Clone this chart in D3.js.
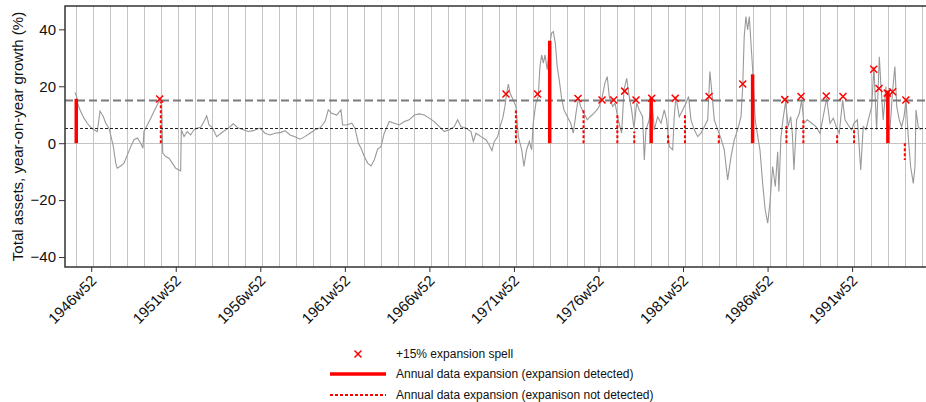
<!DOCTYPE html>
<html>
<head>
<meta charset="utf-8">
<script src="https://cdn.jsdelivr.net/npm/d3@7"></script>
<style>
  body { margin: 0; background: #fff; }
  text { font-family: "Liberation Sans", Arial, sans-serif; }
</style>
</head>
<body>
<svg id="chart" width="926" height="402"></svg>
<script>
// weekly series, dates as decimal years
var weeks = [1946.02,1946.11,1946.20,1946.36,1946.55,1946.75,1946.95,1947.15,1947.34,1947.50,1947.70,1947.84,1948.03,1948.13,1948.29,1948.43,1948.52,1948.72,1948.92,1949.12,1949.32,1949.51,1949.71,1949.91,1950.04,1950.10,1950.30,1950.50,1950.69,1950.89,1951.03,1951.15,1951.21,1951.39,1951.58,1951.78,1951.98,1952.17,1952.27,1952.31,1952.47,1952.66,1952.86,1953.06,1953.25,1953.46,1953.65,1953.81,1953.95,1954.14,1954.40,1954.79,1955.09,1955.38,1955.68,1955.98,1956.27,1956.57,1956.96,1957.26,1957.55,1957.85,1958.15,1958.44,1958.74,1959.03,1959.33,1959.62,1959.92,1960.22,1960.51,1960.81,1961.00,1961.20,1961.50,1961.75,1961.85,1962.09,1962.39,1962.58,1962.78,1962.94,1963.13,1963.33,1963.53,1963.72,1963.92,1964.12,1964.31,1964.61,1964.90,1965.20,1965.50,1965.79,1966.09,1966.38,1966.68,1966.97,1967.27,1967.57,1967.86,1968.16,1968.45,1968.65,1968.85,1969.14,1969.44,1969.58,1969.74,1970.03,1970.33,1970.52,1970.68,1970.82,1971.02,1971.16,1971.32,1971.45,1971.55,1971.65,1971.75,1971.94,1972.10,1972.24,1972.44,1972.57,1972.73,1972.89,1973.03,1973.12,1973.28,1973.42,1973.52,1973.62,1973.72,1973.82,1973.95,1974.07,1974.21,1974.31,1974.43,1974.54,1974.66,1974.80,1974.94,1975.14,1975.34,1975.49,1975.65,1975.79,1975.93,1976.12,1976.32,1976.48,1976.71,1976.97,1977.17,1977.36,1977.50,1977.62,1977.82,1977.96,1978.15,1978.35,1978.49,1978.65,1978.80,1978.94,1979.08,1979.24,1979.39,1979.59,1979.69,1979.79,1979.98,1980.14,1980.28,1980.48,1980.68,1980.87,1981.01,1981.17,1981.37,1981.46,1981.56,1981.76,1981.96,1982.16,1982.31,1982.45,1982.65,1982.85,1983.04,1983.24,1983.44,1983.57,1983.69,1983.83,1984.03,1984.22,1984.42,1984.62,1984.82,1985.01,1985.21,1985.41,1985.51,1985.60,1985.70,1985.80,1985.90,1986.00,1986.10,1986.25,1986.40,1986.53,1986.69,1986.84,1986.99,1987.12,1987.28,1987.44,1987.58,1987.65,1987.77,1987.89,1988.05,1988.20,1988.35,1988.45,1988.54,1988.70,1988.86,1989.00,1989.13,1989.33,1989.59,1989.84,1990.08,1990.27,1990.48,1990.67,1990.87,1991.07,1991.22,1991.42,1991.56,1991.75,1991.95,1992.09,1992.29,1992.40,1992.49,1992.64,1992.80,1992.94,1993.14,1993.27,1993.43,1993.59,1993.69,1993.82,1993.98,1994.06,1994.22,1994.38,1994.51,1994.62,1994.77,1994.91,1995.05,1995.17,1995.30,1995.44,1995.60,1995.70,1995.76,1995.89,1996.03];

var growth = [17.8,16.5,13.5,11.1,8.8,7.0,5.6,4.7,4.1,11.3,9.3,7.0,5.3,2.9,-1.2,-7.0,-8.8,-8.0,-7.0,-4.1,-1.2,1.2,1.8,0.0,-1.8,4.1,6.4,8.8,11.1,13.5,15.2,13.5,-3.5,-4.7,-5.3,-7.0,-8.8,-9.4,-9.7,4.7,2.3,4.1,2.9,4.7,5.3,5.6,7.6,9.6,6.4,5.6,2.3,4.1,5.3,6.8,5.3,4.7,4.1,4.4,5.3,3.5,2.9,3.5,3.7,4.4,2.9,2.3,1.4,2.3,3.5,4.7,5.3,7.6,11.7,10.5,9.9,11.7,6.4,6.4,7.0,5.3,0.0,-1.8,-4.7,-7.0,-8.0,-5.9,-2.1,-1.2,3.5,7.6,7.0,6.4,7.6,8.2,9.9,10.3,9.9,8.8,7.6,5.8,4.1,4.7,5.8,8.2,5.8,5.3,4.1,0.6,3.5,2.3,1.2,-0.6,-2.6,0.6,2.3,5.8,8.8,13.0,17.5,20.8,17.6,15.2,12.9,2.3,-2.3,-8.2,-2.3,0.6,-2.3,7.0,14.1,16.4,26.9,31.0,28.1,31.0,25.8,33.9,38.7,39.2,35.1,26.9,22.2,15.8,11.7,9.3,7.0,3.5,10.5,15.8,12.9,10.5,8.2,9.3,10.5,12.3,15.2,21.1,23.4,16.4,12.9,14.1,8.2,3.5,18.7,22.8,16.4,11.7,5.3,14.1,11.7,9.3,-5.9,4.7,8.2,15.2,4.7,9.3,7.0,11.7,8.2,-1.2,-2.3,9.3,16.4,9.3,11.7,14.1,16.4,8.2,4.7,2.3,3.5,5.8,8.2,25.2,17.6,8.2,4.7,1.8,-2.3,-12.9,-4.7,1.2,4.7,9.3,19.9,37.5,44.5,39.8,44.5,35.1,25.8,8.2,2.3,-2.3,-14.1,-23.4,-28.1,-21.1,-8.2,-15.2,-3.0,-17.0,2.0,8.2,14.6,5.8,9.3,3.0,-9.4,8.2,10.5,15.2,7.0,8.2,7.0,5.8,3.5,9.3,15.8,7.0,8.8,5.3,3.5,15.2,8.2,6.4,4.7,7.0,8.2,-1.2,-9.4,5.8,4.7,8.2,12.9,26.9,4.7,30.4,19.9,8.2,19.9,7.6,4.7,18.7,26.9,12.9,8.2,5.8,9.3,15.2,2.3,-8.2,-14.1,-8.2,11.7,5.8,4.7];

// +15% expansion spells
var spellWeeks = [1951.03,1971.51,1973.38,1975.77,1977.19,1977.88,1978.53,1979.20,1980.13,1981.52,1983.52,1985.51,1988.00,1988.96,1990.45,1991.44,1993.26,1993.57,1994.06,1994.38,1995.16];
var spellValues = [15.5,17.3,17.3,15.7,15.2,15.2,18.3,15.2,15.8,15.8,16.4,20.8,15.3,16.4,16.6,16.4,26.0,19.2,17.6,18.1,15.2];

// annual data expansions (year-end observations)
var annualYears = [1945,1950,1971,1973,1975,1977,1978,1979,1980,1981,1983,1985,1987,1988,1990,1991,1993,1994];
var annualValues = [15.6,14.5,11.5,36.0,11.8,10.5,4.1,16.0,3.2,10.4,3.4,24.2,6.0,8.2,3.5,5.3,18.5,-5.9];
var annualDetected = [true,false,false,true,false,false,false,true,false,false,false,true,false,false,false,false,true,false];

var refLines = [15, 5.5];
var yTicks = [40, 20, 0, -20, -40];
var tickLabels = ["1946w52","1951w52","1956w52","1961w52","1966w52","1971w52","1976w52","1981w52","1986w52","1991w52"];
var gridYears = d3.range(1945, 1996);

var svg = d3.select("#chart");
var pLeft = 65, pRight = 927, pTop = 6, pBottom = 267;

var x = d3.scaleLinear().domain([1945.43, 1996.41]).range([pLeft, pRight]);
var y = d3.scaleLinear().domain([-43.5, 48.2]).range([pBottom, pTop]);

// week label -> decimal year
function parseWeek(s) {
    var p = s.split("w");
    return +p[0] + (+p[1] - 1) / 52;
}
// annual observation sits at start of following year
function yearEnd(yr) { return yr + 1 + 5 / 52; }
function crisp(v) { return Math.round(v) + 0.5; }

svg.append("defs").append("clipPath").attr("id", "plotclip")
    .append("rect").attr("x", pLeft).attr("y", pTop)
    .attr("width", pRight - pLeft).attr("height", pBottom - pTop);

var plot = svg.append("g").attr("clip-path", "url(#plotclip)");

// vertical year lines
plot.selectAll(".grid")
    .data(gridYears)
    .enter()
    .append("line")
    .attr("x1", function (d) { return crisp(x(yearEnd(d))); })
    .attr("x2", function (d) { return crisp(x(yearEnd(d))); })
    .attr("y1", pTop).attr("y2", pBottom)
    .attr("stroke", "#c4c4c4")
    .attr("stroke-width", 1);

// zero line
plot.append("line")
    .attr("x1", pLeft).attr("x2", pRight)
    .attr("y1", crisp(y(0))).attr("y2", crisp(y(0)))
    .attr("stroke", "#c4c4c4").attr("stroke-width", 1);

// series
var line = d3.line()
    .x(function (d, i) { return x(weeks[i]); })
    .y(function (d) { return y(d); });

plot.append("path")
    .datum(growth)
    .attr("d", line)
    .attr("fill", "none")
    .attr("stroke", "#999")
    .attr("stroke-width", 1.1);

// reference lines
plot.append("line")
    .attr("x1", pLeft).attr("x2", pRight)
    .attr("y1", y(refLines[0])).attr("y2", y(refLines[0]))
    .attr("stroke", "#7a7a7a").attr("stroke-width", 2)
    .attr("stroke-dasharray", "8,4");

plot.append("line")
    .attr("x1", pLeft).attr("x2", pRight)
    .attr("y1", crisp(y(refLines[1]))).attr("y2", crisp(y(refLines[1])))
    .attr("stroke", "#222").attr("stroke-width", 1)
    .attr("stroke-dasharray", "3,2");

// annual bars
plot.selectAll(".annual")
    .data(annualYears)
    .enter()
    .append("line")
    .attr("x1", function (d) { return x(yearEnd(d)); })
    .attr("x2", function (d) { return x(yearEnd(d)); })
    .attr("y1", y(0))
    .attr("y2", function (d, i) { return y(annualValues[i]); })
    .attr("stroke", "#ff0000")
    .attr("stroke-width", function (d, i) { return annualDetected[i] ? 3.5 : 2; })
    .attr("stroke-dasharray", function (d, i) { return annualDetected[i] ? null : "3,2"; });

// spell markers
var cs = 3.5;
var crossPath = "M" + -cs + "," + -cs + "L" + cs + "," + cs + "M" + -cs + "," + cs + "L" + cs + "," + -cs;
plot.selectAll(".spell")
    .data(spellWeeks)
    .enter()
    .append("path")
    .attr("transform", function (d, i) { return "translate(" + x(d) + "," + y(spellValues[i]) + ")"; })
    .attr("d", crossPath)
    .attr("stroke", "#ff0000")
    .attr("stroke-width", 1.5)
    .attr("fill", "none");

// axes
var yAxis = svg.append("g")
    .attr("transform", "translate(" + pLeft + ",0)")
    .call(d3.axisLeft(y).tickValues(yTicks).tickSize(6).tickPadding(3));
yAxis.select(".domain").remove();
yAxis.selectAll("line").attr("stroke", "#333");
yAxis.selectAll("text").style("font-size", "15px").attr("fill", "#111");

var xAxis = svg.append("g")
    .attr("transform", "translate(0," + pBottom + ")")
    .call(d3.axisBottom(x)
        .tickValues(tickLabels.map(parseWeek))
        .tickFormat(function (d, i) { return tickLabels[i]; })
        .tickSize(5));
xAxis.select(".domain").remove();
xAxis.selectAll("line").attr("stroke", "#333");
xAxis.selectAll("text")
    .attr("x", 0).attr("y", 0).attr("dy", "0.35em")
    .attr("transform", "translate(2,11) rotate(-45)")
    .style("text-anchor", "end")
    .style("font-size", "15px")
    .attr("fill", "#111");

// frame
svg.append("path")
    .attr("d", "M" + pRight + "," + pTop + "H" + pLeft + "V" + pBottom + "H" + pRight)
    .attr("fill", "none")
    .attr("stroke", "#333")
    .attr("stroke-width", 1.5);

// y title
svg.append("text")
    .attr("transform", "translate(23," + ((pTop + pBottom) / 2) + ") rotate(-90)")
    .attr("text-anchor", "middle")
    .style("font-size", "15px")
    .attr("fill", "#111")
    .text("Total assets, year-on-year growth (%)");

// legend
var legendRows = [354, 374, 395];
var legendText = ["+15% expansion spell", "Annual data expansion (expansion detected)", "Annual data expansion (expanison not detected)"];

svg.append("path")
    .attr("transform", "translate(358," + legendRows[0] + ")")
    .attr("d", crossPath)
    .attr("stroke", "#ff0000").attr("stroke-width", 1.5);

svg.append("line")
    .attr("x1", 330).attr("x2", 386)
    .attr("y1", legendRows[1]).attr("y2", legendRows[1])
    .attr("stroke", "#ff0000").attr("stroke-width", 3.5);

svg.append("line")
    .attr("x1", 330).attr("x2", 386)
    .attr("y1", legendRows[2]).attr("y2", legendRows[2])
    .attr("stroke", "#ff0000").attr("stroke-width", 2)
    .attr("stroke-dasharray", "3,2");

svg.selectAll(".legtext")
    .data(legendText)
    .enter()
    .append("text")
    .attr("x", 396)
    .attr("y", function (d, i) { return legendRows[i]; })
    .attr("dy", "0.35em")
    .style("font-size", "12px")
    .attr("fill", "#111")
    .text(function (d) { return d; });
</script>
</body>
</html>
